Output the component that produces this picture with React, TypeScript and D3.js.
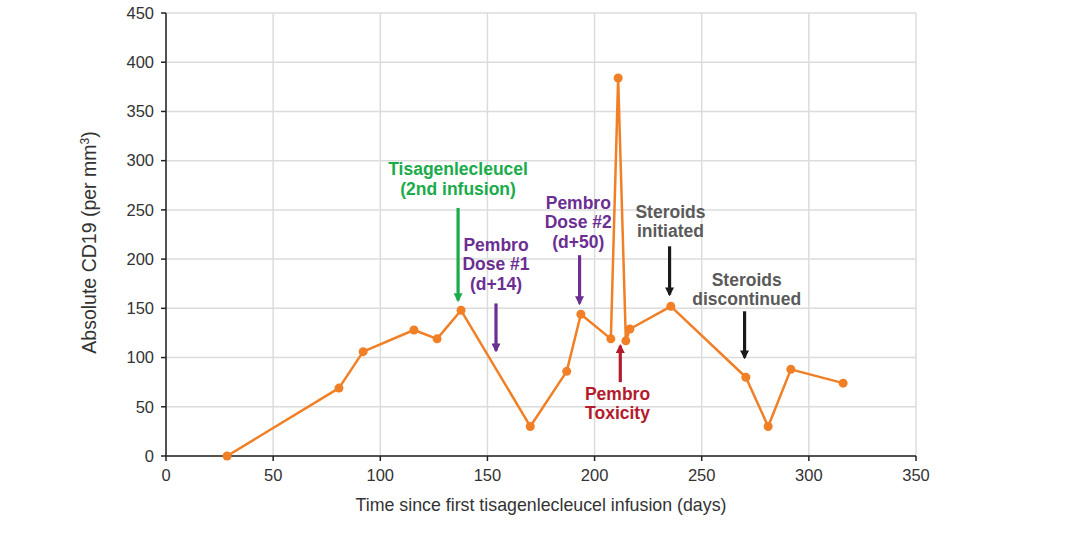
import React from "react";
import * as d3 from "d3";

// CD19 counts over time (days since first infusion)
const days = [28.5, 80.7, 92, 115.7, 126.5, 137.7, 170, 187, 193.6, 207.6, 211, 214.6, 216.5, 235.6, 270.6, 281, 291.6, 316];
const cd19 = [0, 69, 106, 128, 119, 148, 30, 86, 144, 119, 384, 117, 129, 152, 80, 30, 88, 74];

const xTicks = [0, 50, 100, 150, 200, 250, 300, 350];
const yTicks = [0, 50, 100, 150, 200, 250, 300, 350, 400, 450];

// Event annotations: label lines, arrow from/to in data units, colour
const annLines = [
  ["Tisagenlecleucel", "(2nd infusion)"],
  ["Pembro", "Dose #1", "(d+14)"],
  ["Pembro", "Dose #2", "(d+50)"],
  ["Steroids", "initiated"],
  ["Steroids", "discontinued"],
  ["Pembro", "Toxicity"],
];
const annDay = [136.3, 154, 193, 235, 270, 212];
const annLabelDay = [136.3, 154, 192.4, 235.4, 271, 210.7];
const annLabelTop = [285, 208.5, 251, 242, 173, 57];
const annArrowFrom = [252, 155, 204, 213, 147, 75];
const annArrowTo = [158, 107, 155, 164, 100, 112];
const annColor = ["#1aab4b", "#6b2e92", "#6b2e92", "#5a5a5a", "#5a5a5a", "#b31b2c"];
const arrowColor = ["#1aab4b", "#6b2e92", "#6b2e92", "#1a1a1a", "#1a1a1a", "#b31b2c"];

const W = 1069;
const H = 544;
const m = { left: 166, right: W - 916, top: 13, bottom: H - 456 };

export default function App() {
  const x = d3.scaleLinear().domain([0, 350]).range([m.left, W - m.right]);
  const y = d3.scaleLinear().domain([0, 450]).range([H - m.bottom, m.top]);
  const line = d3
    .line<number>()
    .x((_, i) => x(days[i]))
    .y((d) => y(d));

  const font = "'Liberation Sans', Arial, sans-serif";
  return (
    <svg
      width={W}
      height={H}
      style={{ position: "absolute", left: 0, top: 0, background: "#fff" }}
      fontFamily={font}
    >
      <defs>
        {arrowColor.map((c, i) => (
          <marker
            key={i}
            id={`ah${i}`}
            viewBox="0 0 10 10"
            refX={8}
            refY={5}
            markerWidth={2.8}
            markerHeight={2.8}
            orient="auto"
            markerUnits="strokeWidth"
          >
            <path d="M0,0 L10,5 L0,10 Z" fill={c} />
          </marker>
        ))}
      </defs>
      {/* grid */}
      {yTicks.map((t) => (
        <line key={"gy" + t} x1={x(0)} x2={x(350)} y1={y(t)} y2={y(t)} stroke="#dcdcdc" strokeWidth={1.5} />
      ))}
      {xTicks.map((t) => (
        <line key={"gx" + t} x1={x(t)} x2={x(t)} y1={y(0)} y2={y(450)} stroke="#dcdcdc" strokeWidth={1.5} />
      ))}
      {/* axes */}
      <line x1={x(0)} x2={x(0)} y1={y(0)} y2={y(450)} stroke="#222" strokeWidth={1.5} />
      <line x1={x(0)} x2={x(350)} y1={y(0)} y2={y(0)} stroke="#222" strokeWidth={1.5} />
      {yTicks.map((t) => (
        <g key={"ty" + t}>
          <line x1={x(0) - 5} x2={x(0)} y1={y(t)} y2={y(t)} stroke="#222" strokeWidth={1.5} />
          <text x={x(0) - 12} y={y(t)} dy="0.35em" textAnchor="end" fontSize={16.5} fill="#333">
            {t}
          </text>
        </g>
      ))}
      {xTicks.map((t) => (
        <g key={"tx" + t}>
          <line x1={x(t)} x2={x(t)} y1={y(0)} y2={y(0) + 5} stroke="#222" strokeWidth={1.5} />
          <text x={x(t)} y={y(0) + 25} textAnchor="middle" fontSize={16.5} fill="#333">
            {t}
          </text>
        </g>
      ))}
      <text
        transform={`translate(96,${(y(0) + y(450)) / 2 + 8}) rotate(-90)`}
        textAnchor="middle"
        fontSize={19.5}
        fill="#333"
      >
        Absolute CD19 (per mm
        <tspan baselineShift="super" fontSize={12}>3</tspan>)
      </text>
      <text x={541} y={511} textAnchor="middle" fontSize={17.8} fill="#333">
        Time since first tisagenlecleucel infusion (days)
      </text>
      {/* series */}
      <path d={line(cd19) ?? ""} fill="none" stroke="#f07f26" strokeWidth={2.5} strokeLinejoin="round" />
      {cd19.map((v, i) => (
        <circle key={"p" + i} cx={x(days[i])} cy={y(v)} r={4.5} fill="#f07f26" />
      ))}
      {/* annotations */}
      {annLines.map((lines, i) => (
        <g key={"a" + i}>
          <line
            x1={x(annDay[i])}
            x2={x(annDay[i])}
            y1={y(annArrowFrom[i])}
            y2={y(annArrowTo[i])}
            stroke={arrowColor[i]}
            strokeWidth={3.2}
            markerEnd={`url(#ah${i})`}
          />
          {lines.map((s, j) => (
            <text
              key={j}
              x={x(annLabelDay[i])}
              y={y(annLabelTop[i]) + j * 19.5}
              textAnchor="middle"
              fontSize={17.5}
              fontWeight="bold"
              fill={annColor[i]}
            >
              {s}
            </text>
          ))}
        </g>
      ))}
    </svg>
  );
}
